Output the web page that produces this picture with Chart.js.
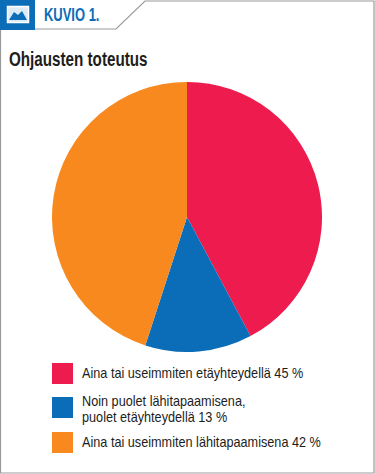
<!DOCTYPE html>
<html lang="fi">
<head>
<meta charset="utf-8">
<script src="https://cdn.jsdelivr.net/npm/chart.js@4"></script>
<style>
html,body{margin:0;padding:0;background:#fff;}
body{position:relative;width:375px;height:474px;overflow:hidden;font-family:"Liberation Sans",sans-serif;color:#1d1d1b;}
svg.frame{position:absolute;left:0;top:0;}
#wrap{position:absolute;left:47px;top:77px;width:280px;height:280px;}
.t{position:absolute;white-space:nowrap;transform-origin:0 0;}
#kuvio{left:44px;top:5px;font-size:18px;font-weight:bold;color:#0b6db7;line-height:20px;transform:scaleX(.72);}
#title{left:9px;top:47px;font-size:20px;font-weight:bold;line-height:24px;transform:scaleX(.76);}
.sw{position:absolute;left:52px;width:21px;height:21px;}
.lab{position:absolute;left:82px;font-size:15px;line-height:16px;white-space:nowrap;transform-origin:0 0;transform:scaleX(.845);}
</style>
</head>
<body>
<svg class="frame" width="375" height="474">
  <path d="M0.5 29 V473 H374 V1 H145 L116 29 H35" fill="none" stroke="#9a9a9a" stroke-width="1.2"/>
  <rect x="0" y="0" width="35" height="30" fill="#0b6db7"/>
  <rect x="7.5" y="6.5" width="21" height="16" fill="#dcebf6" stroke="#fff" stroke-width="1.5"/>
  <path d="M9 20 L14 12 L18 15 L22 11 L27 20 Z" fill="#0b6db7"/>
</svg>
<div class="t" id="kuvio">KUVIO 1.</div>
<div class="t" id="title">Ohjausten toteutus</div>
<div id="wrap"><canvas id="c" width="280" height="280"></canvas></div>
<div id="legend"></div>
<script>
const categories = ["Aina tai useimmiten etäyhteydellä", "Noin puolet lähitapaamisena, puolet etäyhteydellä", "Aina tai useimmiten lähitapaamisena"];
const sliceValues = [42.2, 12.8, 45];
const sliceColors = ["#ee1c4e", "#0b6db7", "#f7891f"];
const legendLines = [["Aina tai useimmiten etäyhteydellä 45 %"], ["Noin puolet lähitapaamisena,", "puolet etäyhteydellä 13 %"], ["Aina tai useimmiten lähitapaamisena 42 %"]];
const legendTops = [363, 397, 432];
const labelTops = [365, 393, 434];

new Chart(document.getElementById("c"), {
  type: "pie",
  data: { labels: categories, datasets: [{ data: sliceValues, backgroundColor: sliceColors, borderWidth: 0 }] },
  options: {
    responsive: false, animation: false,
    layout: { padding: 5 },
    plugins: { legend: { display: false }, tooltip: { enabled: false } }
  }
});

const lg = document.getElementById("legend");
legendLines.forEach((lines, i) => {
  const s = document.createElement("div");
  s.className = "sw"; s.style.top = legendTops[i] + "px"; s.style.background = sliceColors[i];
  lg.appendChild(s);
  const l = document.createElement("div");
  l.className = "lab"; l.style.top = labelTops[i] + "px";
  l.innerHTML = lines.join("<br>");
  lg.appendChild(l);
});
</script>
</body>
</html>
